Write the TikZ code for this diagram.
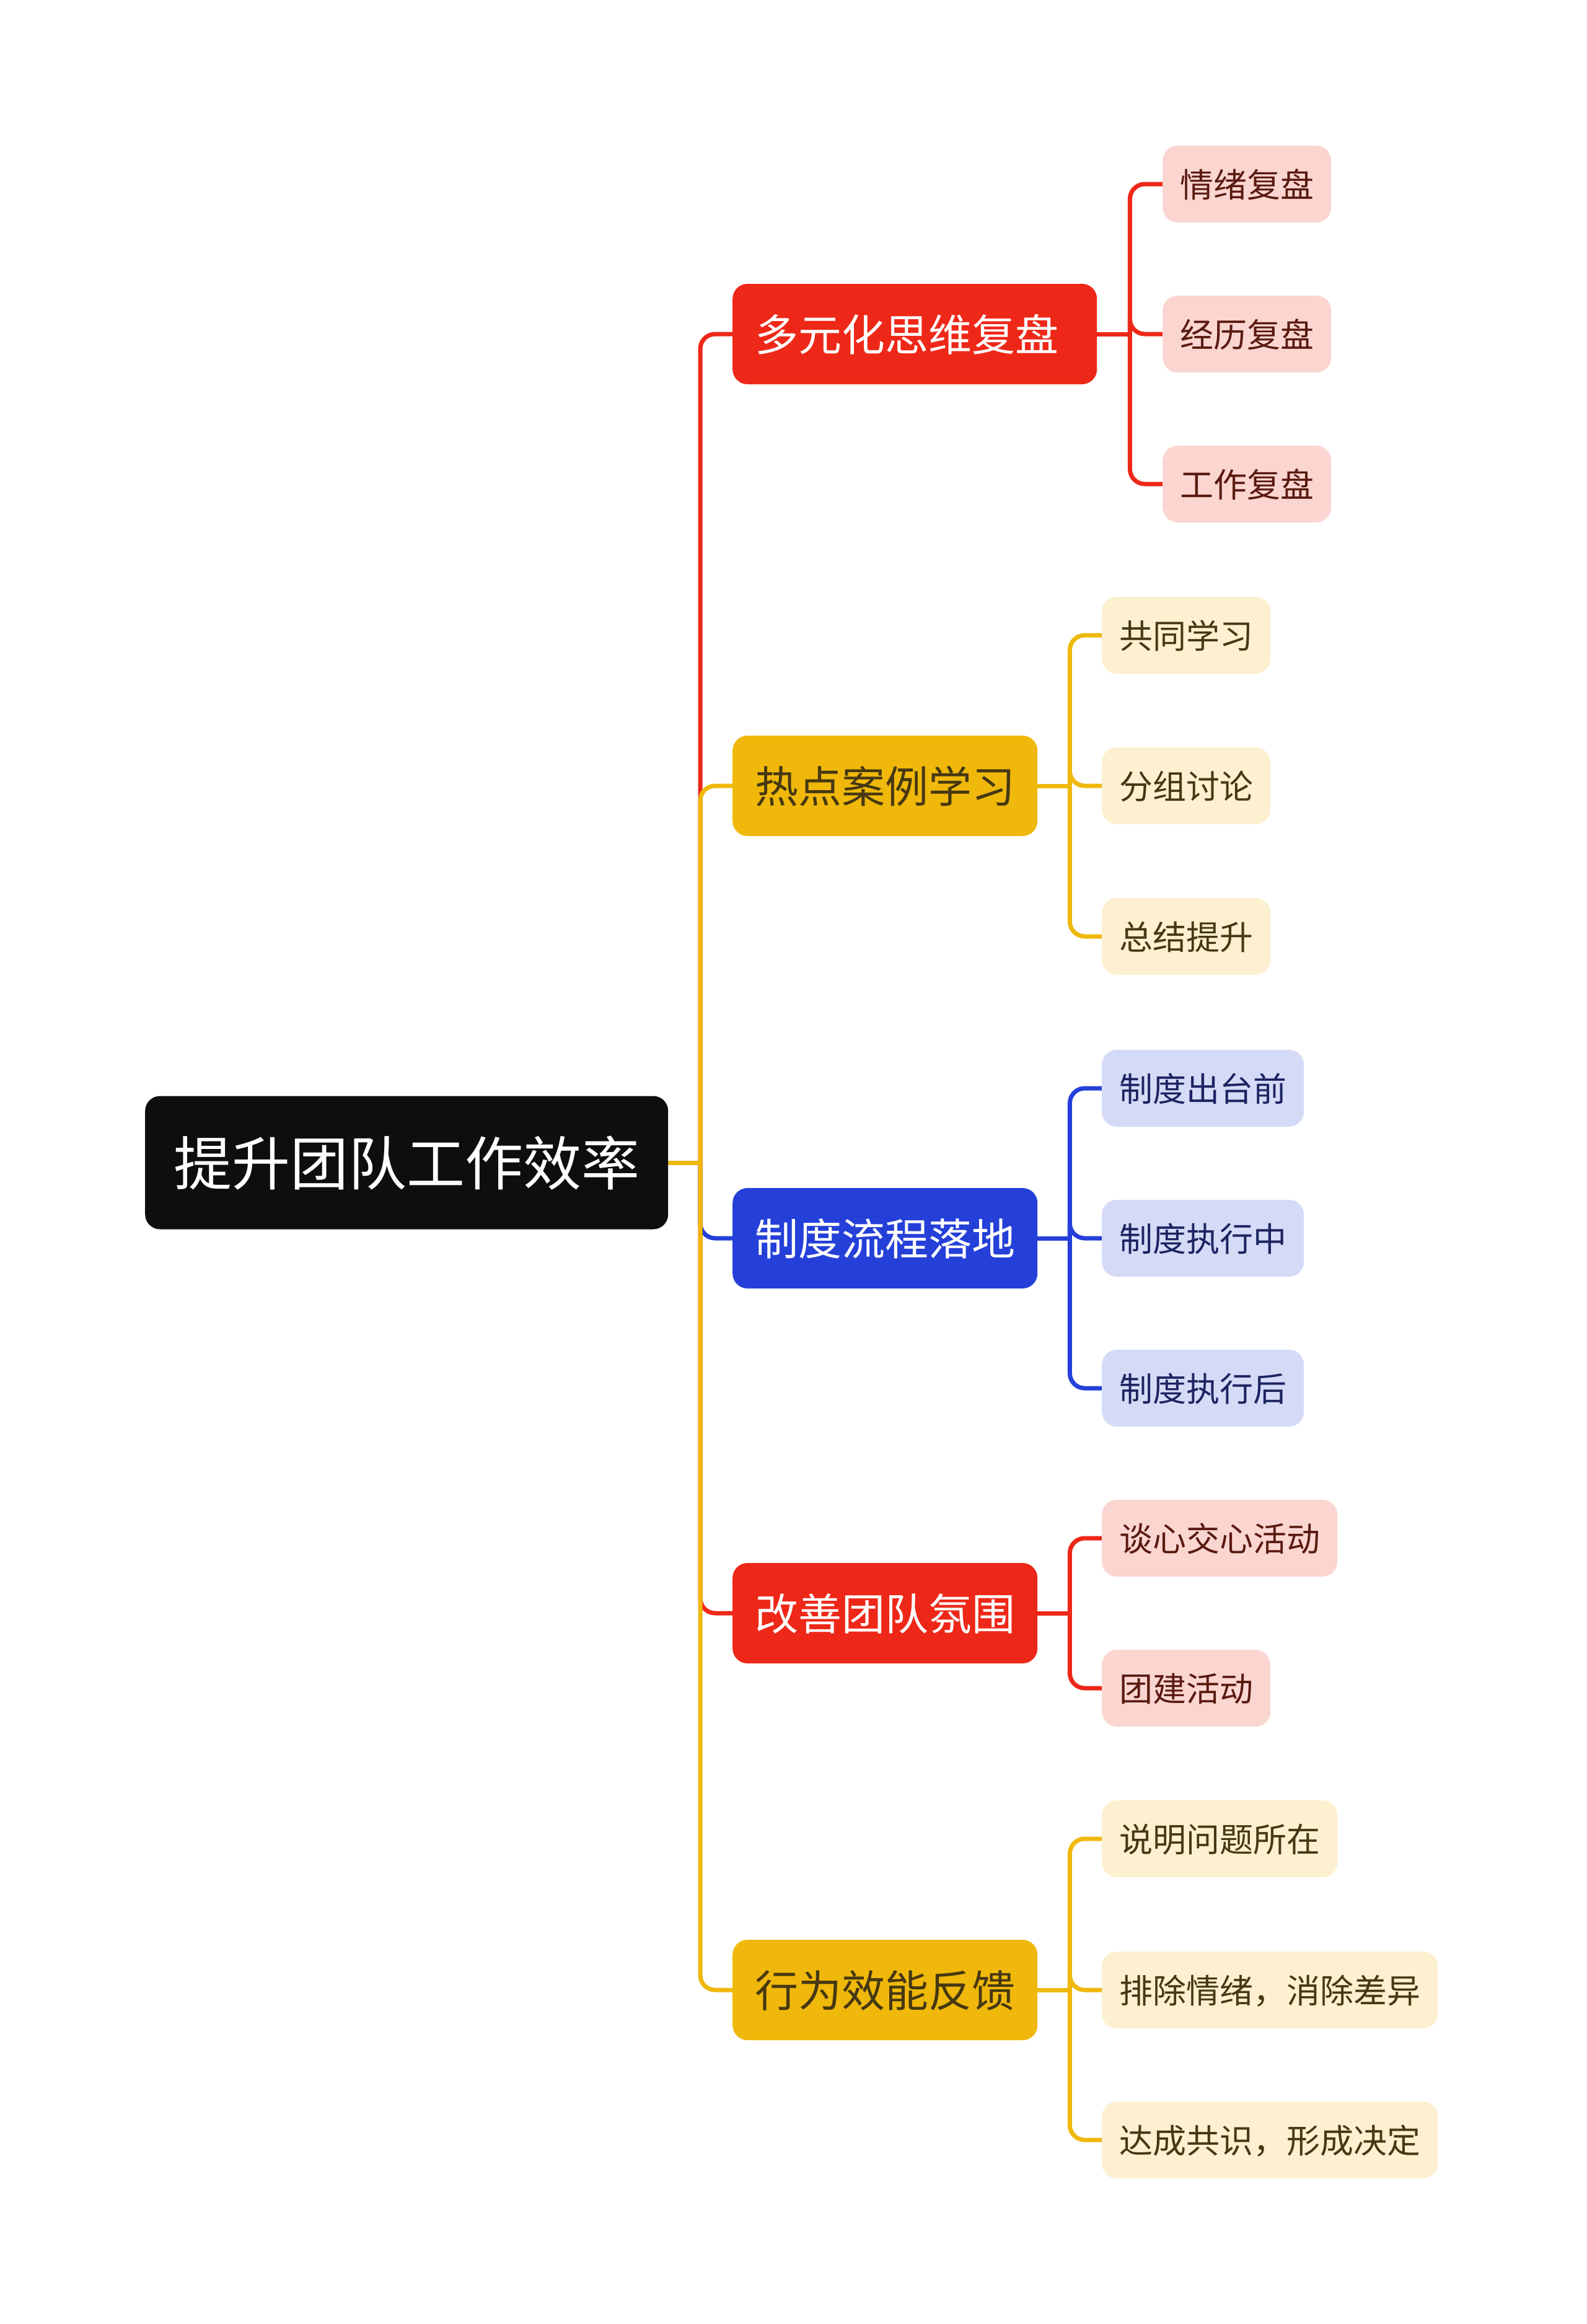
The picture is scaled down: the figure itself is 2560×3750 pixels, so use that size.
\documentclass[tikz,border=0pt]{standalone}
\usepackage{fontspec}
\setmainfont{Noto Sans CJK SC}
\usetikzlibrary{backgrounds}
\definecolor{cRoot}{HTML}{0E0E0E}
\definecolor{cRed}{HTML}{EE2818}
\definecolor{cRedL}{HTML}{FBD6D1}
\definecolor{cRedT}{HTML}{5A1A10}
\definecolor{cYel}{HTML}{EFB80B}
\definecolor{cYelL}{HTML}{FDF0D0}
\definecolor{cYelT}{HTML}{463812}
\definecolor{cBlu}{HTML}{2440D8}
\definecolor{cBluL}{HTML}{D5DAF6}
\definecolor{cBluT}{HTML}{1C2461}
\begin{document}
\begin{tikzpicture}[x=1pt,y=-1pt,
  base/.style={rounded corners=24pt, inner ysep=0pt, anchor=west},
  rootnode/.style={base, fill=cRoot, text=white, font=\fontsize{94}{100}\selectfont, text height=79pt, text depth=6pt, minimum height=215pt, inner xsep=46pt},
  lone/.style={base, font=\fontsize{70}{76}\selectfont, text height=59pt, text depth=4pt, minimum height=162pt, inner xsep=36pt, align=left},
  ltwo/.style={base, font=\fontsize{54}{60}\selectfont, text height=45pt, text depth=3pt, minimum height=124pt, inner xsep=28pt},
  redone/.style={lone, fill=cRed, text=white},
  yelone/.style={lone, fill=cYel, text=cYelT},
  bluone/.style={lone, fill=cBlu, text=white},
  redtwo/.style={ltwo, fill=cRedL, text=cRedT},
  yeltwo/.style={ltwo, fill=cYelL, text=cYelT},
  blutwo/.style={ltwo, fill=cBluL, text=cBluT},
  link/.style={line width=7pt, rounded corners=24pt}
]
\useasboundingbox (0,0) rectangle (2560,3750);

% root
\node[rootnode] (root) at (234,1876) {提升团队工作效率};

% level 1
\node[redone, text width=516pt] (n1) at (1182,539) {多元化思维复盘};
\node[yelone, text width=420pt] (n2) at (1182,1268) {热点案例学习};
\node[bluone, text width=420pt] (n3) at (1182,1998) {制度流程落地};
\node[redone, text width=420pt] (n4) at (1182,2603) {改善团队氛围};
\node[yelone, text width=420pt] (n5) at (1182,3211) {行为效能反馈};

% level 2
\node[redtwo] (a1) at (1876,297) {情绪复盘};
\node[redtwo] (a2) at (1876,539) {经历复盘};
\node[redtwo] (a3) at (1876,781) {工作复盘};

\node[yeltwo] (b1) at (1778,1025) {共同学习};
\node[yeltwo] (b2) at (1778,1268) {分组讨论};
\node[yeltwo] (b3) at (1778,1511) {总结提升};

\node[blutwo] (c1) at (1778,1756) {制度出台前};
\node[blutwo] (c2) at (1778,1998) {制度执行中};
\node[blutwo] (c3) at (1778,2240) {制度执行后};

\node[redtwo] (d1) at (1778,2482) {谈心交心活动};
\node[redtwo] (d2) at (1778,2724) {团建活动};

\node[yeltwo] (e1) at (1778,2967) {说明问题所在};
\node[yeltwo] (e2) at (1778,3211) {排除情绪，消除差异};
\node[yeltwo] (e3) at (1778,3453) {达成共识，形成决定};

% junctions
\coordinate (j0) at (1130,1876);
\coordinate (j1) at ([xshift=53pt]n1.east);
\coordinate (j2) at ([xshift=52pt]n2.east);
\coordinate (j3) at ([xshift=52pt]n3.east);
\coordinate (j4) at ([xshift=52pt]n4.east);
\coordinate (j5) at ([xshift=52pt]n5.east);

\begin{scope}[on background layer]
% level 1 connectors
\draw[link, cRed] (j0) |- (n1.west);
\draw[link, cYel] (j0) |- (n2.west);
\draw[link, cBlu] (j0) |- (n3.west);
\draw[link, cRed] (j0) |- (n4.west);
\draw[link, cYel] (j0) |- (n5.west);
\draw[link, cYel] (root.east) -- (j0);

% level 2 connectors
\draw[link, cRed] (n1.east) -- (j1);
\draw[link, cRed] (j1) |- (a1.west);
\draw[link, cRed] (j1) |- (a2.west);
\draw[link, cRed] (j1) |- (a3.west);

\draw[link, cYel] (n2.east) -- (j2);
\draw[link, cYel] (j2) |- (b1.west);
\draw[link, cYel] (j2) |- (b2.west);
\draw[link, cYel] (j2) |- (b3.west);

\draw[link, cBlu] (n3.east) -- (j3);
\draw[link, cBlu] (j3) |- (c1.west);
\draw[link, cBlu] (j3) |- (c2.west);
\draw[link, cBlu] (j3) |- (c3.west);

\draw[link, cRed] (n4.east) -- (j4);
\draw[link, cRed] (j4) |- (d1.west);
\draw[link, cRed] (j4) |- (d2.west);

\draw[link, cYel] (n5.east) -- (j5);
\draw[link, cYel] (j5) |- (e1.west);
\draw[link, cYel] (j5) |- (e2.west);
\draw[link, cYel] (j5) |- (e3.west);
\end{scope}
\end{tikzpicture}
\end{document}
